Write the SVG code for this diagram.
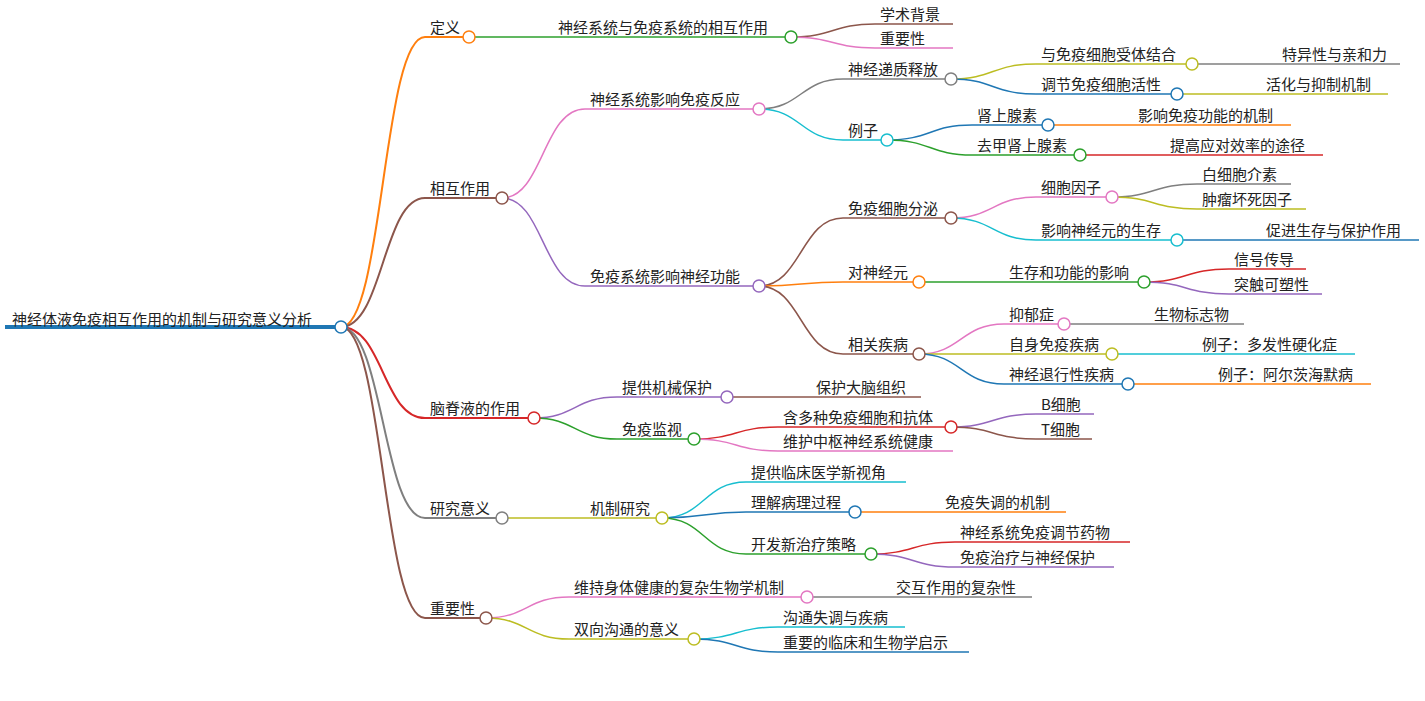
<svg xmlns="http://www.w3.org/2000/svg" width="1425" height="701" viewBox="0 0 1425 701">
<style>
text{font-family:"Noto Sans CJK SC","Noto Sans",sans-serif;font-size:15px;fill:#222}
#connectors path{fill:none;stroke-width:1.5}
circle{fill:#fff;stroke-width:1.5}
.or{stroke:#ff7f0e}.br{stroke:#8c564b}.rd{stroke:#d62728}.gy{stroke:#7f7f7f}.gn{stroke:#2ca02c}.pk{stroke:#e377c2}.pu{stroke:#9467bd}.cy{stroke:#17becf}.ol{stroke:#bcbd22}.bl{stroke:#1f77b4}
</style>
<rect width="1425" height="701" fill="#fff"/>
<g id="connectors">
<path d="M5 327 L341 327" class="bl" style="stroke-width:4"/>
<path d="M341 327 C383 327 383 37 425 37 L469 37" class="or" style="stroke-width:2"/>
<path d="M341 327 C383 327 383 198 425 198 L502 198" class="br" style="stroke-width:2"/>
<path d="M341 327 C383 327 383 418 425 418 L534 418" class="rd" style="stroke-width:2"/>
<path d="M341 327 C383 327 383 518 425 518 L502 518" class="gy" style="stroke-width:2"/>
<path d="M341 327 C383 327 383 618 425 618 L486 618" class="br" style="stroke-width:2"/>
<path d="M469 37 L791 37" class="gn"/>
<path d="M791 37 C833 37 833 24 875 24 L953 24" class="br"/>
<path d="M791 37 C833 37 833 48 875 48 L953 48" class="pk"/>
<path d="M502 198 C543 198 543 109 585 109 L759 109" class="pk"/>
<path d="M502 198 C543 198 543 286 585 286 L759 286" class="pu"/>
<path d="M759 109 C801 109 801 79 843 79 L951 79" class="gy"/>
<path d="M759 109 C801 109 801 140 843 140 L887 140" class="cy"/>
<path d="M951 79 C993 79 993 64 1036 64 L1192 64" class="ol"/>
<path d="M951 79 C993 79 993 94 1036 94 L1177 94" class="bl"/>
<path d="M1192 64 L1400 64" class="gy"/>
<path d="M1177 94 L1388 94" class="ol"/>
<path d="M887 140 C930 140 930 125 972 125 L1048 125" class="bl"/>
<path d="M887 140 C930 140 930 155 972 155 L1080 155" class="gn"/>
<path d="M1048 125 L1291 125" class="or"/>
<path d="M1080 155 L1323 155" class="rd"/>
<path d="M759 286 C801 286 801 218 843 218 L951 218" class="br"/>
<path d="M759 286 C801 286 801 282 843 282 L919 282" class="or"/>
<path d="M759 286 C801 286 801 354 843 354 L919 354" class="br"/>
<path d="M951 218 C993 218 993 197 1036 197 L1112 197" class="pk"/>
<path d="M951 218 C993 218 993 240 1036 240 L1177 240" class="cy"/>
<path d="M1112 197 C1154 197 1154 184 1197 184 L1291 184" class="gy"/>
<path d="M1112 197 C1154 197 1154 209 1197 209 L1306 209" class="ol"/>
<path d="M1177 240 L1419 240" class="bl"/>
<path d="M919 282 L1144 282" class="gn"/>
<path d="M1144 282 C1186 282 1186 269 1229 269 L1306 269" class="rd"/>
<path d="M1144 282 C1186 282 1186 294 1229 294 L1322 294" class="pu"/>
<path d="M919 354 C961 354 961 324 1004 324 L1064 324" class="pk"/>
<path d="M919 354 L1112 354" class="ol"/>
<path d="M919 354 C961 354 961 384 1004 384 L1128 384" class="bl"/>
<path d="M1064 324 L1244 324" class="gy"/>
<path d="M1112 354 L1355 354" class="cy"/>
<path d="M1128 384 L1371 384" class="or"/>
<path d="M534 418 C575 418 575 397 617 397 L727 397" class="pu"/>
<path d="M534 418 C575 418 575 439 617 439 L694 439" class="gn"/>
<path d="M727 397 L921 397" class="br"/>
<path d="M694 439 C736 439 736 427 778 427 L951 427" class="rd"/>
<path d="M694 439 C736 439 736 451 778 451 L953 451" class="pk"/>
<path d="M951 427 C993 427 993 414 1036 414 L1094 414" class="pu"/>
<path d="M951 427 C993 427 993 439 1036 439 L1092 439" class="br"/>
<path d="M502 518 L662 518" class="ol"/>
<path d="M662 518 C704 518 704 482 746 482 L906 482" class="cy"/>
<path d="M662 518 C704 518 704 512 746 512 L855 512" class="bl"/>
<path d="M662 518 C704 518 704 554 746 554 L871 554" class="gn"/>
<path d="M855 512 L1066 512" class="or"/>
<path d="M871 554 C913 554 913 542 955 542 L1130 542" class="rd"/>
<path d="M871 554 C913 554 913 567 955 567 L1114 567" class="pu"/>
<path d="M486 618 C527 618 527 597 569 597 L807 597" class="pk"/>
<path d="M486 618 C527 618 527 639 569 639 L694 639" class="ol"/>
<path d="M807 597 L1032 597" class="gy"/>
<path d="M694 639 C736 639 736 627 778 627 L905 627" class="cy"/>
<path d="M694 639 C736 639 736 652 778 652 L969 652" class="bl"/>
</g>
<g id="n-root"><text x="12" y="325">神经体液免疫相互作用的机制与研究意义分析</text><circle cx="341" cy="327" r="6" class="bl"/></g>
<g id="n1"><text x="430" y="33">定义</text><circle cx="469" cy="37" r="6" class="or"/></g>
<g id="n2"><text x="558" y="33">神经系统与免疫系统的相互作用</text><circle cx="791" cy="37" r="6" class="gn"/></g>
<g id="n3"><text x="880" y="20">学术背景</text></g>
<g id="n4"><text x="880" y="44">重要性</text></g>
<g id="n5"><text x="430" y="194">相互作用</text><circle cx="502" cy="198" r="6" class="br"/></g>
<g id="n6"><text x="590" y="105">神经系统影响免疫反应</text><circle cx="759" cy="109" r="6" class="pk"/></g>
<g id="n7"><text x="848" y="75">神经递质释放</text><circle cx="951" cy="79" r="6" class="gy"/></g>
<g id="n8"><text x="1041" y="60">与免疫细胞受体结合</text><circle cx="1192" cy="64" r="6" class="ol"/></g>
<g id="n9"><text x="1282" y="60">特异性与亲和力</text></g>
<g id="n10"><text x="1041" y="90">调节免疫细胞活性</text><circle cx="1177" cy="94" r="6" class="bl"/></g>
<g id="n11"><text x="1266" y="90">活化与抑制机制</text></g>
<g id="n12"><text x="848" y="136">例子</text><circle cx="887" cy="140" r="6" class="cy"/></g>
<g id="n13"><text x="977" y="121">肾上腺素</text><circle cx="1048" cy="125" r="6" class="bl"/></g>
<g id="n14"><text x="1138" y="121">影响免疫功能的机制</text></g>
<g id="n15"><text x="977" y="151">去甲肾上腺素</text><circle cx="1080" cy="155" r="6" class="gn"/></g>
<g id="n16"><text x="1170" y="151">提高应对效率的途径</text></g>
<g id="n17"><text x="590" y="282">免疫系统影响神经功能</text><circle cx="759" cy="286" r="6" class="pu"/></g>
<g id="n18"><text x="848" y="214">免疫细胞分泌</text><circle cx="951" cy="218" r="6" class="br"/></g>
<g id="n19"><text x="1041" y="193">细胞因子</text><circle cx="1112" cy="197" r="6" class="pk"/></g>
<g id="n20"><text x="1202" y="180">白细胞介素</text></g>
<g id="n21"><text x="1202" y="205">肿瘤坏死因子</text></g>
<g id="n22"><text x="1041" y="236">影响神经元的生存</text><circle cx="1177" cy="240" r="6" class="cy"/></g>
<g id="n23"><text x="1266" y="236">促进生存与保护作用</text></g>
<g id="n24"><text x="848" y="278">对神经元</text><circle cx="919" cy="282" r="6" class="or"/></g>
<g id="n25"><text x="1009" y="278">生存和功能的影响</text><circle cx="1144" cy="282" r="6" class="gn"/></g>
<g id="n26"><text x="1234" y="265">信号传导</text></g>
<g id="n27"><text x="1234" y="290">突触可塑性</text></g>
<g id="n28"><text x="848" y="350">相关疾病</text><circle cx="919" cy="354" r="6" class="br"/></g>
<g id="n29"><text x="1009" y="320">抑郁症</text><circle cx="1064" cy="324" r="6" class="pk"/></g>
<g id="n30"><text x="1154" y="320">生物标志物</text></g>
<g id="n31"><text x="1009" y="350">自身免疫疾病</text><circle cx="1112" cy="354" r="6" class="ol"/></g>
<g id="n32"><text x="1202" y="350">例子：多发性硬化症</text></g>
<g id="n33"><text x="1009" y="380">神经退行性疾病</text><circle cx="1128" cy="384" r="6" class="bl"/></g>
<g id="n34"><text x="1218" y="380">例子：阿尔茨海默病</text></g>
<g id="n35"><text x="430" y="414">脑脊液的作用</text><circle cx="534" cy="418" r="6" class="rd"/></g>
<g id="n36"><text x="622" y="393">提供机械保护</text><circle cx="727" cy="397" r="6" class="pu"/></g>
<g id="n37"><text x="816" y="393">保护大脑组织</text></g>
<g id="n38"><text x="622" y="435">免疫监视</text><circle cx="694" cy="439" r="6" class="gn"/></g>
<g id="n39"><text x="783" y="423">含多种免疫细胞和抗体</text><circle cx="951" cy="427" r="6" class="rd"/></g>
<g id="n40"><text x="1041" y="410">B细胞</text></g>
<g id="n41"><text x="1041" y="435">T细胞</text></g>
<g id="n42"><text x="783" y="447">维护中枢神经系统健康</text></g>
<g id="n43"><text x="430" y="514">研究意义</text><circle cx="502" cy="518" r="6" class="gy"/></g>
<g id="n44"><text x="590" y="514">机制研究</text><circle cx="662" cy="518" r="6" class="ol"/></g>
<g id="n45"><text x="751" y="478">提供临床医学新视角</text></g>
<g id="n46"><text x="751" y="508">理解病理过程</text><circle cx="855" cy="512" r="6" class="bl"/></g>
<g id="n47"><text x="945" y="508">免疫失调的机制</text></g>
<g id="n48"><text x="751" y="550">开发新治疗策略</text><circle cx="871" cy="554" r="6" class="gn"/></g>
<g id="n49"><text x="960" y="538">神经系统免疫调节药物</text></g>
<g id="n50"><text x="960" y="563">免疫治疗与神经保护</text></g>
<g id="n51"><text x="430" y="614">重要性</text><circle cx="486" cy="618" r="6" class="br"/></g>
<g id="n52"><text x="574" y="593">维持身体健康的复杂生物学机制</text><circle cx="807" cy="597" r="6" class="pk"/></g>
<g id="n53"><text x="896" y="593">交互作用的复杂性</text></g>
<g id="n54"><text x="574" y="635">双向沟通的意义</text><circle cx="694" cy="639" r="6" class="ol"/></g>
<g id="n55"><text x="783" y="623">沟通失调与疾病</text></g>
<g id="n56"><text x="783" y="648">重要的临床和生物学启示</text></g>
</svg>
